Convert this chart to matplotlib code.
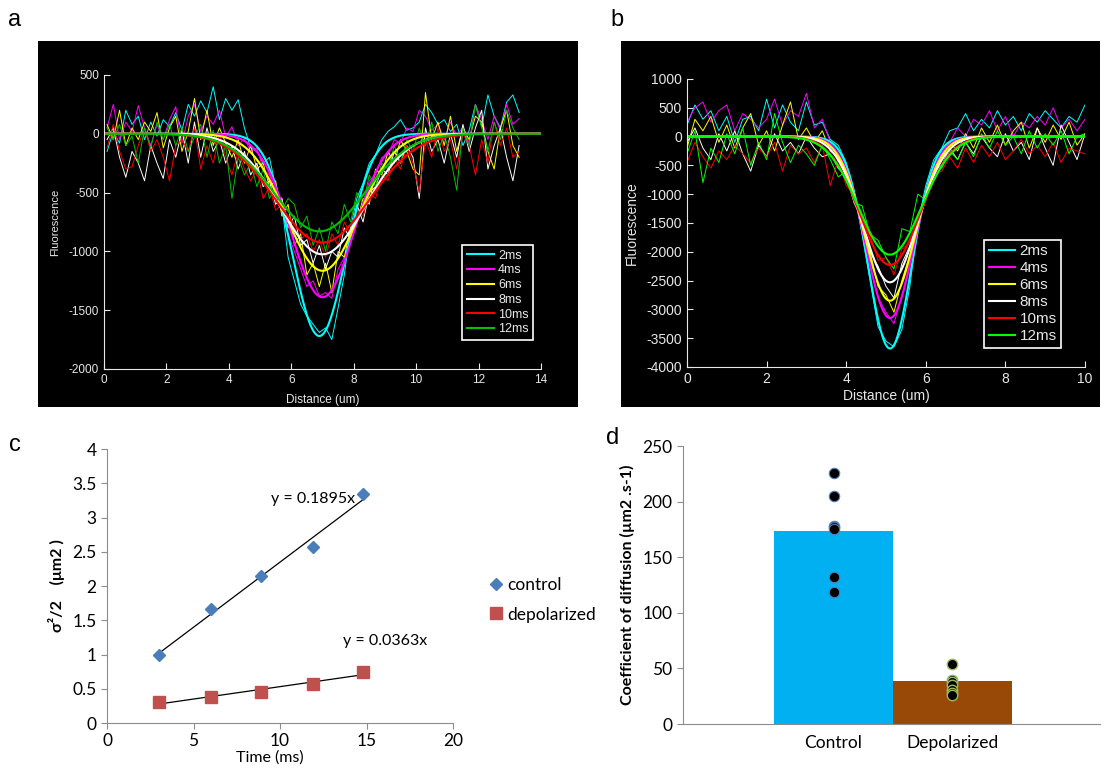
import numpy as np
import matplotlib
matplotlib.use('Agg')
import matplotlib.pyplot as plt
from matplotlib.patches import Rectangle
from matplotlib.ticker import FormatStrFormatter

plt.rcParams['axes.unicode_minus'] = False

times = ['2ms', '4ms', '6ms', '8ms', '10ms', '12ms']

# ---- panel a: line profiles, one sample every 0.2 um (0.1 .. 13.3)
dist_a = np.round(np.arange(0.1, 13.4, 0.2), 2)
prof_a_2 = [-150, 20, -80, 200, 80, 150, -50, 100, -20, 120,
            60, 180, 30, 250, 150, 280, 180, 400, 120, 300,
            200, 290, 50, -120, -150, -250, -200, -450, -600, -1050,
            -1250, -1450, -1550, -1620, -1690, -1650, -1750, -1480, -1200, -800,
            -550, -420, -250, -180, -50, 20, 60, 120, 30, 50,
            100, 250, 180, 80, 120, 20, 80, -100, 30, 250,
            60, 330, 150, 50, 270, 330, 180]
prof_a_4 = [50, 250, -50, 100, 20, 240, 50, -100, 80, -50,
            120, 230, -80, 150, 250, 20, 150, 80, 200, -30,
            60, -100, -40, -150, -120, -300, -350, -500, -550, -850,
            -1000, -1150, -1300, -1250, -1380, -1350, -1400, -1150, -1050, -900,
            -700, -620, -400, -350, -200, -180, -50, -80, 50, 20,
            200, 150, 30, 80, -50, 100, -20, 60, -80, 250,
            120, -50, 150, 30, 250, 80, 130]
prof_a_6 = [80, -50, 200, -100, 50, -50, 100, 20, 180, -120,
            50, 150, -150, 20, 300, -50, 200, -100, 50, -80,
            -200, -50, -250, -100, -300, -250, -450, -400, -700, -600,
            -950, -850, -1200, -1100, -1300, -1100, -1350, -1000, -1050, -800,
            -750, -550, -600, -300, -350, -150, -250, -50, -150, -300,
            -350, 350, -50, 100, -100, 150, -150, 50, -50, 150,
            100, -150, -300, 50, 200, -100, -200]
prof_a_8 = [-50, 50, -200, -370, -150, -250, -400, -100, -250, -380,
            -50, -200, 30, -250, 100, -200, 50, -150, -50, -250,
            -100, -300, -150, -350, -250, -450, -400, -600, -550, -800,
            -700, -950, -900, -1100, -950, -1150, -1000, -1050, -800, -900,
            -600, -750, -500, -450, -300, -350, -150, -250, -100, -200,
            -550, 50, -150, -50, -250, 0, -200, 80, -150, 50,
            200, -300, -100, 50, -200, -400, -100]
prof_a_10 = [-120, 80, -150, -300, -280, -100, 50, -150, -50, -200,
             -400, -100, -50, -150, 50, -300, -100, -250, 0, -200,
             -350, -150, -300, -400, -300, -550, -450, -650, -600, -750,
             -800, -900, -850, -1000, -900, -1050, -850, -950, -750, -850,
             -650, -700, -500, -550, -350, -400, -200, -300, -100, -250,
             -500, -50, -200, 50, -150, -50, -300, 0, -100, -350,
             -50, -250, 100, -100, 50, -200, -150]
prof_a_12 = [50, -50, 80, -100, -20, -250, 50, -120, 100, -50,
             80, -100, 50, -150, -30, 80, -200, 30, -250, -100,
             -550, -200, -350, -250, -450, -300, -550, -450, -650, -550,
             -600, -800, -700, -950, -800, -1000, -750, -850, -600, -750,
             -500, -600, -350, -450, -250, -300, -100, -250, -50, -150,
             50, -100, 100, -150, 0, -200, -480, 50, -100, 250,
             50, -150, 100, -50, 200, 50, -50]
# gaussian fits: amplitude, centre (um), sigma (um)
fit_a_amp = [-1720, -1390, -1165, -1025, -925, -830]
fit_a_cen = [6.9, 7.0, 7.0, 7.0, 7.0, 6.9]
fit_a_sig = [0.85, 1.0, 1.15, 1.35, 1.5, 1.45]

# ---- panel b: line profiles, one sample every 0.2 um (0 .. 10)
dist_b = np.linspace(0, 10, 51)
prof_b_2 = [200, 550, 300, 450, 100, 350, -100, 300, 350, 100,
            650, 150, 550, 250, 100, 600, 200, 250, -50, -150,
            -450, -950, -1700, -2500, -3300, -3550, -3650, -3350, -2600, -1500,
            -850, -400, -200, 100, 150, 400, 100, 300, 150, 450,
            200, 350, 100, 400, 250, 450, 300, 150, 350, 250,
            550]
prof_b_4 = [250, 500, 600, 250, 450, 550, 100, 400, 300, 150,
            300, 650, 200, 450, 350, 750, 150, 300, -100, -350,
            -600, -1050, -1600, -2250, -2800, -3050, -3250, -2750, -2200, -1550,
            -1000, -600, -250, -100, 150, 0, 300, 200, 450, 100,
            350, 0, 250, 150, 350, 200, 500, 150, 300, 100,
            300]
prof_b_6 = [-200, 300, 100, 350, -100, 200, -200, 150, 400, -150,
            100, -250, 200, 600, -50, 150, -100, 100, -250, -350,
            -700, -1000, -1550, -2000, -2600, -2750, -3050, -2500, -2050, -1500,
            -1050, -550, -400, -100, -250, 50, -200, 150, -100, 200,
            -150, 100, 250, -200, 150, -100, 200, -50, 250, -150,
            50]
prof_b_8 = [-100, 150, -200, -400, 50, -250, 100, -300, -600, -150,
            -350, 50, -250, -100, -300, 0, -200, -350, -300, -550,
            -700, -1150, -1450, -2000, -2250, -2600, -2800, -2200, -1900, -1400,
            -1100, -600, -500, -200, -400, -100, -300, 0, -200, -350,
            50, -250, -100, -400, 150, -200, -500, 200, -100, -400,
            50]
prof_b_10 = [-450, -100, -350, -550, -250, -400, -150, -300, -450, -200,
             -350, -100, -600, -150, -300, -200, -450, -150, -850, -400,
             -850, -1000, -1500, -1700, -2150, -2100, -2400, -1950, -1850, -1350,
             -1100, -650, -600, -350, -550, -200, -450, -150, -350, -100,
             -400, -250, -50, -300, -150, -350, -100, -450, -200, -250,
             -300]
prof_b_12 = [-300, 100, -800, -200, -450, 50, -300, 150, -500, -100,
             -400, 400, -100, -450, -150, -300, -500, -150, -400, -700,
             -600, -1150, -1200, -1700, -1800, -2100, -2300, -1600, -1650, -1000,
             -1100, -500, -550, -250, -400, -100, -350, 50, -200, 100,
             -150, 0, -300, 100, -200, 50, -150, 100, -300, 0,
             50]
fit_b_amp = [-3680, -3150, -2850, -2530, -2230, -2050]
fit_b_cen = [5.1, 5.1, 5.1, 5.1, 5.1, 5.1]
fit_b_sig = [0.55, 0.6, 0.63, 0.68, 0.75, 0.78]

# ---- panel c: sigma^2/2 vs time
time_ms = [3, 6, 8.9, 11.9, 14.8]
sig_control = [1.0, 1.66, 2.14, 2.57, 3.35]
sig_depol = [0.31, 0.38, 0.45, 0.57, 0.75]

# ---- panel d: diffusion coefficients
groups = ['Control', 'Depolarized']
mean_d = [174, 38.7]
cells_control = [226, 205, 178, 177, 175, 132, 119]
cells_depol = [54, 40, 38, 35, 31, 28, 26]

cols_a = ['#00ffff', '#ff00ff', '#ffff00', '#ffffff', '#ff0000', '#00c000']
cols_b = ['#00ffff', '#ff00ff', '#ffff00', '#ffffff', '#ff0000', '#00ff00']


def gauss(x, amp, cen, sig):
    return amp * np.exp(-(x - cen) ** 2 / (2 * sig ** 2))


def black_panel(ax, fs):
    ax.set_facecolor('black')
    for s in ['top', 'right']:
        ax.spines[s].set_visible(False)
    for s in ['left', 'bottom']:
        ax.spines[s].set_color('#e8e8e8')
    ax.tick_params(colors='#e8e8e8', labelcolor='#e8e8e8', direction='in',
                   labelsize=fs, length=4)
    for lab in ax.get_xticklabels() + ax.get_yticklabels():
        lab.set_family('Liberation Sans')


fig = plt.figure(figsize=(11.07, 7.69), dpi=100)
fig.patches.append(Rectangle((0.0343, 0.4707), 0.4878, 0.476, transform=fig.transFigure,
                             facecolor='black', zorder=-10))
fig.patches.append(Rectangle((0.561, 0.4707), 0.4327, 0.476, transform=fig.transFigure,
                             facecolor='black', zorder=-10))

# panel a
ax_a = fig.add_axes([0.0939, 0.5202, 0.3948, 0.3823])
fit_x_a = np.linspace(0, 14, 400)
profs_a = [prof_a_2, prof_a_4, prof_a_6, prof_a_8, prof_a_10, prof_a_12]
for i in range(6):
    ax_a.plot(dist_a, profs_a[i], color=cols_a[i], lw=0.7)
for i in range(6):
    ax_a.plot(fit_x_a, gauss(fit_x_a, fit_a_amp[i], fit_a_cen[i], fit_a_sig[i]),
              color=cols_a[i], lw=1.5, label=times[i])
ax_a.set_xlim(0, 14)
ax_a.set_ylim(-2000, 500)
ax_a.set_xticks(range(0, 15, 2))
ax_a.set_yticks(range(-2000, 501, 500))
black_panel(ax_a, 8.5)
ax_a.set_xlabel('Distance (um)', color='#e8e8e8', fontsize=8.5, family='Liberation Sans')
ax_a.set_ylabel('Fluorescence', color='#e8e8e8', fontsize=8, family='Liberation Sans')
ax_a.xaxis.set_label_coords(0.5, -0.085)
ax_a.yaxis.set_label_coords(-0.1, 0.5)
leg = ax_a.legend(loc='lower right', bbox_to_anchor=(0.982, 0.099), borderaxespad=0,
                  facecolor='black', edgecolor='white', framealpha=1, fancybox=False,
                  handlelength=2.2, handletextpad=0.3, labelspacing=0.22, borderpad=0.35,
                  prop={'family': 'Liberation Sans', 'size': 9})
leg.get_frame().set_linewidth(1.2)
for t in leg.get_texts():
    t.set_color('#e8e8e8')

# panel b
ax_b = fig.add_axes([0.6206, 0.5228, 0.3595, 0.3745])
fit_x_b = np.linspace(0, 10, 400)
profs_b = [prof_b_2, prof_b_4, prof_b_6, prof_b_8, prof_b_10, prof_b_12]
for i in range(6):
    ax_b.plot(dist_b, profs_b[i], color=cols_b[i], lw=0.7)
for i in range(6):
    ax_b.plot(fit_x_b, gauss(fit_x_b, fit_b_amp[i], fit_b_cen[i], fit_b_sig[i]),
              color=cols_b[i], lw=1.5, label=times[i])
ax_b.set_xlim(0, 10)
ax_b.set_ylim(-4000, 1000)
ax_b.set_xticks(range(0, 11, 2))
ax_b.set_yticks(range(-4000, 1001, 500))
black_panel(ax_b, 10)
ax_b.set_xlabel('Distance (um)', color='#e8e8e8', fontsize=10, family='Liberation Sans')
ax_b.set_ylabel('Fluorescence', color='#e8e8e8', fontsize=10, family='Liberation Sans')
ax_b.xaxis.set_label_coords(0.5, -0.075)
ax_b.yaxis.set_label_coords(-0.12, 0.5)
leg = ax_b.legend(loc='lower right', bbox_to_anchor=(0.94, 0.066), borderaxespad=0,
                  facecolor='black', edgecolor='white', framealpha=1, fancybox=False,
                  handlelength=1.7, handletextpad=0.3, labelspacing=0.2, borderpad=0.3,
                  prop={'family': 'Liberation Sans', 'size': 11})
leg.get_frame().set_linewidth(1.2)
for t in leg.get_texts():
    t.set_color('#e8e8e8')

# panel c
cfont = ['Lato', 'DejaVu Sans']
ax_c = fig.add_axes([0.0967, 0.0598, 0.3126, 0.3563])
ax_c.plot(time_ms, sig_control, 'D', color='#4a7ebb', ms=6.5, label='control', zorder=3)
ax_c.plot(time_ms, sig_depol, 's', color='#c0504d', ms=9, label='depolarized', zorder=3)
for vals in [sig_control, sig_depol]:
    k, b0 = np.polyfit(time_ms, vals, 1)
    ends = np.array([time_ms[0], time_ms[-1]])
    ax_c.plot(ends, k * ends + b0, color='black', lw=0.9, zorder=2)
ax_c.text(11.9, 3.27, 'y = 0.1895x', ha='center', va='center', fontsize=11.5, family=cfont)
ax_c.text(16.07, 1.2, 'y = 0.0363x', ha='center', va='center', fontsize=11.5, family=cfont)
ax_c.set_xlim(0, 20)
ax_c.set_ylim(0, 4)
ax_c.set_xticks(range(0, 21, 5))
ax_c.set_yticks(np.arange(0, 4.01, 0.5))
ax_c.yaxis.set_major_formatter(FormatStrFormatter('%g'))
for s in ['top', 'right']:
    ax_c.spines[s].set_visible(False)
for s in ['left', 'bottom']:
    ax_c.spines[s].set_color('#8c8c8c')
ax_c.tick_params(colors='#8c8c8c', labelcolor='black', labelsize=12.5, length=4)
for lab in ax_c.get_xticklabels() + ax_c.get_yticklabels():
    lab.set_family(cfont)
ax_c.set_xlabel('Time (ms)', fontsize=11.5, family=cfont)
ax_c.xaxis.set_label_coords(0.47, -0.1)
ax_c.xaxis.label.set_va('top')
ax_c.set_ylabel('σ²/2    (μm2 )', fontsize=11.5, family=cfont, fontweight='bold')
ax_c.yaxis.set_label_coords(-0.122, 0.5)
ax_c.legend(loc='center left', bbox_to_anchor=(1.05, 0.449), frameon=False,
            handletextpad=0.05, labelspacing=0.75, handlelength=1.2,
            prop={'family': cfont, 'size': 12.5})

# panel d
ax_d = fig.add_axes([0.617, 0.0585, 0.3767, 0.3615])
ax_d.bar([0, 1], mean_d, width=1.0, color=['#00b0f0', '#984807'], zorder=1)
ax_d.plot([0] * len(cells_control), cells_control, 'o', color='black', ms=7.5,
          mec='#4f81bd', mew=0.8, zorder=3)
ax_d.plot([1] * len(cells_depol), cells_depol, 'o', color='black', ms=7.5,
          mec='#9bbb59', mew=1.0, zorder=3)
ax_d.set_xlim(-1.265, 2.24)
ax_d.set_ylim(0, 250)
ax_d.set_yticks(range(0, 251, 50))
ax_d.set_xticks([0, 1])
ax_d.set_xticklabels(groups)
for s in ['top', 'right']:
    ax_d.spines[s].set_visible(False)
for s in ['left', 'bottom']:
    ax_d.spines[s].set_color('#8c8c8c')
ax_d.tick_params(axis='y', colors='#8c8c8c', labelcolor='black', labelsize=12.5, length=4)
ax_d.tick_params(axis='x', length=0, labelsize=12.5, pad=8)
for lab in ax_d.get_xticklabels() + ax_d.get_yticklabels():
    lab.set_family(cfont)
ax_d.set_ylabel('Coefficient of diffusion (µm2 .s-1)', fontsize=11.5, family=cfont,
                fontweight='bold')
ax_d.yaxis.set_label_coords(-0.115, 0.5)

# panel letters
for lx, ly, let in [(0.0136, 0.974, 'a'), (0.557, 0.974, 'b'),
                    (0.0136, 0.421, 'c'), (0.553, 0.43, 'd')]:
    fig.text(lx, ly, let, fontsize=17, family='Liberation Sans', ha='center', va='center')

fig.savefig('out.png', dpi=100)
